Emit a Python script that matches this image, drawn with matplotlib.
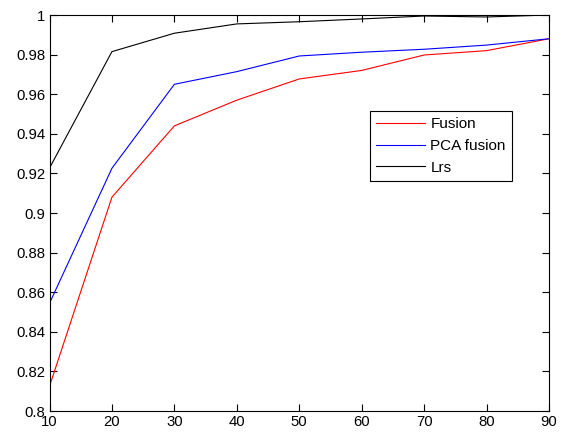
import matplotlib
matplotlib.use("Agg")
import matplotlib.pyplot as plt

x = [10, 20, 30, 40, 50, 60, 70, 80, 90]
fusion = [0.8125, 0.908, 0.944, 0.957, 0.9677, 0.972, 0.9798, 0.982, 0.988]
pca_fusion = [0.8544, 0.9226, 0.965, 0.9714, 0.9793, 0.9812, 0.9827, 0.9848, 0.988]
lrs = [0.9227, 0.9815, 0.9908, 0.9955, 0.9966, 0.998, 0.9995, 0.999, 1.0]
labels = ["Fusion", "PCA fusion", "Lrs"]
xticks = [10, 20, 30, 40, 50, 60, 70, 80, 90]
yticks = [0.8, 0.82, 0.84, 0.86, 0.88, 0.9, 0.92, 0.94, 0.96, 0.98, 1.0]
ytick_labels = ["0.8", "0.82", "0.84", "0.86", "0.88", "0.9", "0.92", "0.94", "0.96", "0.98", "1"]

plt.rcParams['font.family'] = ['Liberation Sans', 'DejaVu Sans']
fig = plt.figure(figsize=(5.61, 4.33), dpi=100)
ax = fig.add_axes([49.5/561, 22/433, 499.5/561, 396/433])
ax.plot(x, fusion, color='#ff0000', lw=0.8, label=labels[0])
ax.plot(x, pca_fusion, color='#0000ff', lw=0.8, label=labels[1])
ax.plot(x, lrs, color='#000000', lw=0.8, label=labels[2])
ax.set_xlim(10, 90)
ax.set_ylim(0.8, 1.0)
ax.set_xticks(xticks)
ax.set_yticks(yticks)
ax.set_yticklabels(ytick_labels)
ax.tick_params(direction='in', length=5, width=0.8, top=True, right=True,
               labelsize=10.7, pad=3, colors='black')
for s in ax.spines.values():
    s.set_linewidth(0.8)
leg = ax.legend(loc='upper left', bbox_to_anchor=(0.6416, 0.7576), borderaxespad=0,
                fontsize=11, handlelength=3.2, labelspacing=0.5, handletextpad=0.33,
                borderpad=0.42, fancybox=False, framealpha=1, edgecolor='black')
leg.get_frame().set_linewidth(0.8)
fig.savefig("out.png", dpi=100)
